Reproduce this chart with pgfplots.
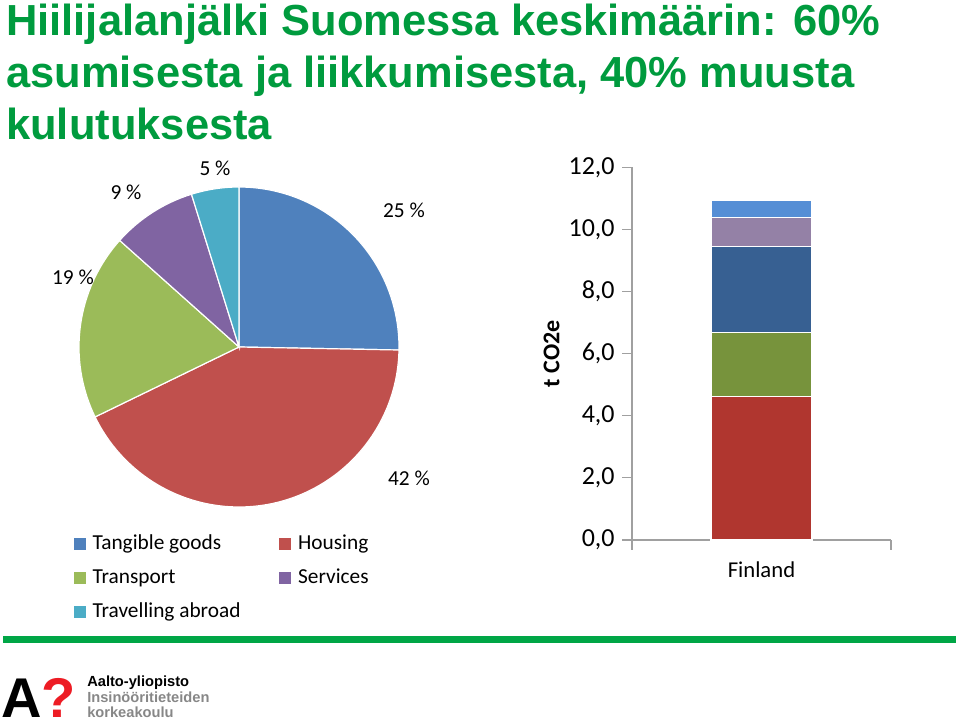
\documentclass[border=0pt]{standalone}
\usepackage{pgfplots}
\pgfplotsset{compat=1.18}
\usepackage{pgfplotstable}
\usepackage{fontspec}
\setmainfont{Carlito}
\newfontfamily\titlefont{Liberation Sans}

\definecolor{titlegreen}{RGB}{0,155,62}
\definecolor{rulegreen}{RGB}{0,166,70}
\definecolor{pieblue}{RGB}{79,129,189}
\definecolor{piered}{RGB}{192,80,77}
\definecolor{piegreen}{RGB}{155,187,89}
\definecolor{piepurple}{RGB}{128,100,162}
\definecolor{piecyan}{RGB}{75,172,198}
\definecolor{barred}{RGB}{176,54,47}
\definecolor{bargreen}{RGB}{119,147,60}
\definecolor{barblue}{RGB}{55,96,146}
\definecolor{barmauve}{RGB}{148,129,166}
\definecolor{barlight}{RGB}{85,142,213}
\definecolor{axisgray}{RGB}{160,160,160}
\definecolor{logored}{RGB}{237,28,36}
\definecolor{logogray}{RGB}{135,135,135}

% pie shares (%), clockwise from the top
\pgfplotstableread{
name pct col
Tangible 25.3 pieblue
Housing 42.5 piered
Transport 18.8 piegreen
Services 8.6 piepurple
Travel 4.8 piecyan
}\piedata

% stacked bar, t CO2e, Finland
\pgfplotstableread{
x housing transport goods services travel
0.5 4.62 2.07 2.77 0.93 0.56
}\bardata

\newcommand\legsq[1]{\addlegendimage{legend image code/.code={\fill[#1] (0pt,-4.1pt) rectangle (8.2pt,4.1pt); \path[draw=none,fill=none] (0pt,0pt) -- (12pt,0pt);}}}

\begin{document}
\begin{tikzpicture}[x=0.75pt,y=0.75pt]
\useasboundingbox (0,0) rectangle (959,727);

% title
\begin{scope}[every node/.style={anchor=base west,inner sep=0pt,text=titlegreen,font=\titlefont\bfseries\fontsize{32.6pt}{39pt}\selectfont}]
\node at (6,691) {Hiilijalanjälki Suomessa keskimäärin: 60\%};
\node at (6,639) {asumisesta ja liikkumisesta, 40\% muusta};
\node at (6,587) {kulutuksesta};
\end{scope}

% pie
\begin{axis}[
  at={(59.25pt,165pt)}, anchor=south west,
  scale only axis, width=240pt, height=240pt,
  xmin=-1, xmax=1, ymin=-1, ymax=1,
  hide axis,
  legend columns=2,
  legend cell align=left,
  legend style={at={(-0.03,-0.07)}, anchor=north west, draw=none, fill=none,
    font=\fontsize{16pt}{19pt}\selectfont, row sep=9pt,
    /tikz/every even column/.append style={column sep=27pt}},
]
\pgfplotsextra{
  \xdef\startang{90}
  \foreach \i in {0,...,4}{
    \pgfplotstablegetelem{\i}{pct}\of\piedata \let\sliceval\pgfplotsretval
    \pgfplotstablegetelem{\i}{col}\of\piedata \let\slicecol\pgfplotsretval
    \pgfmathsetmacro\endang{\startang-3.6*\sliceval}
    \fill[fill=\slicecol, draw=white, line width=0.9pt] (axis cs:0,0) -- ++(\startang:120pt)
      arc[start angle=\startang, end angle=\endang, radius=120pt] -- cycle;
    \xdef\startang{\endang}
  }
}
\legsq{pieblue}\addlegendentry{Tangible goods}
\legsq{piered}\addlegendentry{Housing}
\legsq{piegreen}\addlegendentry{Transport}
\legsq{piepurple}\addlegendentry{Services}
\legsq{piecyan}\addlegendentry{Travelling abroad}
\end{axis}

% pie labels
\begin{scope}[every node/.style={font=\fontsize{16pt}{19pt}\selectfont,inner sep=0pt}]
\node at (404,517) {25 \%};
\node at (409,249) {42 \%};
\node at (73,450) {19 \%};
\node at (126,535) {9 \%};
\node at (215,559) {5 \%};
\end{scope}

% stacked bar
\begin{axis}[
  at={(474pt,140.25pt)}, anchor=south west,
  scale only axis, width=194.25pt, height=279.5pt,
  xmin=0, xmax=1, ymin=0, ymax=12,
  axis x line*=bottom, axis y line*=left,
  axis line style={draw=axisgray, line width=0.8pt},
  ybar stacked, bar width=75.75pt,
  ytick={0,2,...,12},
  tick align=outside,
  major tick length=7.5pt, minor tick length=7.5pt,
  tick style={draw=axisgray, line width=0.8pt},
  major x tick style={draw=none},
  xtick={0.5}, xticklabels={Finland},
  minor xtick={0,1},
  /pgf/number format/assume math mode=true,
  yticklabel style={/pgf/number format/.cd, fixed, fixed zerofill, precision=1, use comma, /tikz/.cd, xshift=-2pt, font=\fontsize{19.5pt}{22pt}\selectfont},
  xticklabel style={yshift=-5pt, font=\fontsize{17pt}{20pt}\selectfont},
  ylabel={t CO2e},
  ylabel style={font=\bfseries\fontsize{18pt}{20pt}\selectfont},
  clip=false,
]
\addplot[fill=barred, draw=white, line width=1pt] table[x=x, y=housing] {\bardata};
\addplot[fill=bargreen, draw=white, line width=1pt] table[x=x, y=transport] {\bardata};
\addplot[fill=barblue, draw=white, line width=1pt] table[x=x, y=goods] {\bardata};
\addplot[fill=barmauve, draw=white, line width=1pt] table[x=x, y=services] {\bardata};
\addplot[fill=barlight, draw=white, line width=1pt] table[x=x, y=travel] {\bardata};
\end{axis}

% green rule
\draw[rulegreen, line width=5pt] (3,87.5) -- (956,87.5);

% logo
\node[anchor=base west, inner sep=0pt, font=\titlefont\bfseries\fontsize{42pt}{42pt}\selectfont] at (1,9) {A};
\node[anchor=base west, inner sep=0pt, text=logored, font=\titlefont\bfseries\fontsize{42pt}{42pt}\selectfont] at (41,9) {?};
\begin{scope}[every node/.style={anchor=base west,inner sep=0pt,font=\titlefont\bfseries\fontsize{11pt}{12pt}\selectfont}]
\node at (87,40) {Aalto-yliopisto};
\node[text=logogray] at (87,24) {Insinööritieteiden};
\node[text=logogray] at (87,9) {korkeakoulu};
\end{scope}
\end{tikzpicture}
\end{document}
